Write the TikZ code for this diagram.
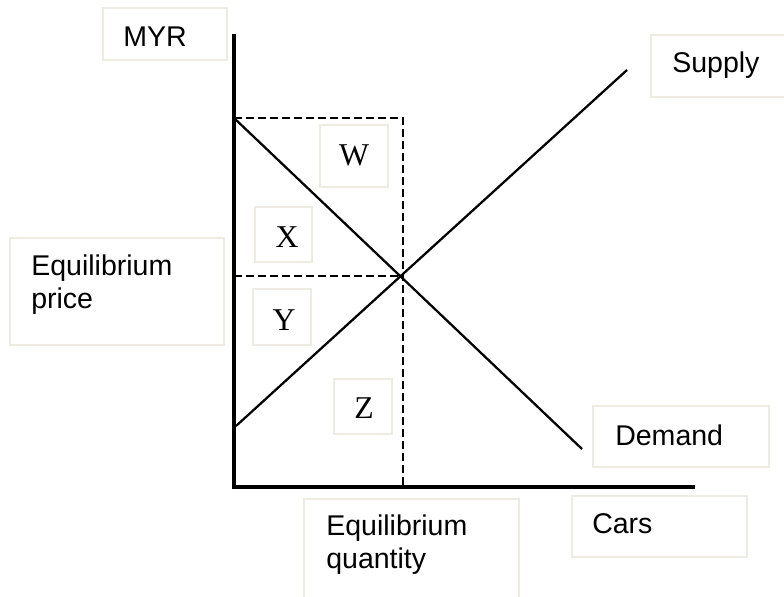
\documentclass[tikz,border=0pt]{standalone}
\usepackage{fontspec}
\setmainfont{Liberation Serif}
\newfontfamily\arialfont{Liberation Sans}
\definecolor{boxline}{RGB}{238,236,226}
\begin{document}
\begin{tikzpicture}[x=0.75pt,y=-0.75pt,
  lbox/.style={draw=boxline,line width=0.9pt},
  sanslabel/.style={anchor=base west,inner sep=0pt,font=\arialfont\fontsize{21.4pt}{24.75pt}\selectfont,align=left},
  seriflabel/.style={anchor=base,inner sep=0pt,font=\fontsize{23.8pt}{28pt}\selectfont},
  axisline/.style={line width=2.3pt,black},
  curveline/.style={line width=1.7pt,black},
  guideline/.style={line width=1.8pt,black,dash pattern=on 6pt off 3pt}]
\useasboundingbox (0,0) rectangle (784,596);
\fill[white] (0,0) rectangle (784,596);
% label boxes
\draw[lbox] (103,8) rectangle (227,60);
\draw[lbox] (651,35) rectangle (790,97);
\draw[lbox] (10,238) rectangle (224,345);
\draw[lbox] (320,125) rectangle (388,187);
\draw[lbox] (255,207) rectangle (312,262);
\draw[lbox] (253,289) rectangle (311,345);
\draw[lbox] (334,379) rectangle (392,434);
\draw[lbox] (304,499) rectangle (519,600);
\draw[lbox] (593,406) rectangle (769,467);
\draw[lbox] (572,496) rectangle (747,557);
% coordinates
\coordinate (ytop) at (234,34);
\coordinate (ybot) at (234,489);
\coordinate (O) at (234,487);
\coordinate (xend) at (695,487);
\coordinate (Sa) at (236,426);
\coordinate (Sb) at (627,70);
\coordinate (Da) at (234,118);
\coordinate (Db) at (582,449);
\coordinate (Ptop) at (234,118);
\coordinate (Qtop) at (403,118);
\coordinate (Qbot) at (403,487);
\coordinate (Pe) at (234,276);
\coordinate (E) at (403,276);
% dashed guides
\draw[guideline] (Ptop) -- (Qtop) -- (Qbot);
\draw[guideline] (Pe) -- (E);
% curves
\draw[curveline] (Sa) -- (Sb);
\draw[curveline] (Da) -- (Db);
% axes
\draw[axisline] (ytop) -- (ybot);
\draw[axisline] (O) -- (xend);
% texts
\node[sanslabel] (myr) at (123,46) {MYR};
\node[sanslabel] (supply) at (672,72) {Supply};
\node[sanslabel] (eqp) at (31,308) {Equilibrium\\price};
\node[sanslabel] (eqq) at (326,568) {Equilibrium\\quantity};
\node[sanslabel] (demand) at (615,445) {Demand};
\node[sanslabel] (cars) at (592,533) {Cars};
\node[seriflabel] (W) at (354,165) {W};
\node[seriflabel] (X) at (287,247) {X};
\node[seriflabel] (Y) at (284,330) {Y};
\node[seriflabel] (Z) at (364,418) {Z};
\end{tikzpicture}
\end{document}
